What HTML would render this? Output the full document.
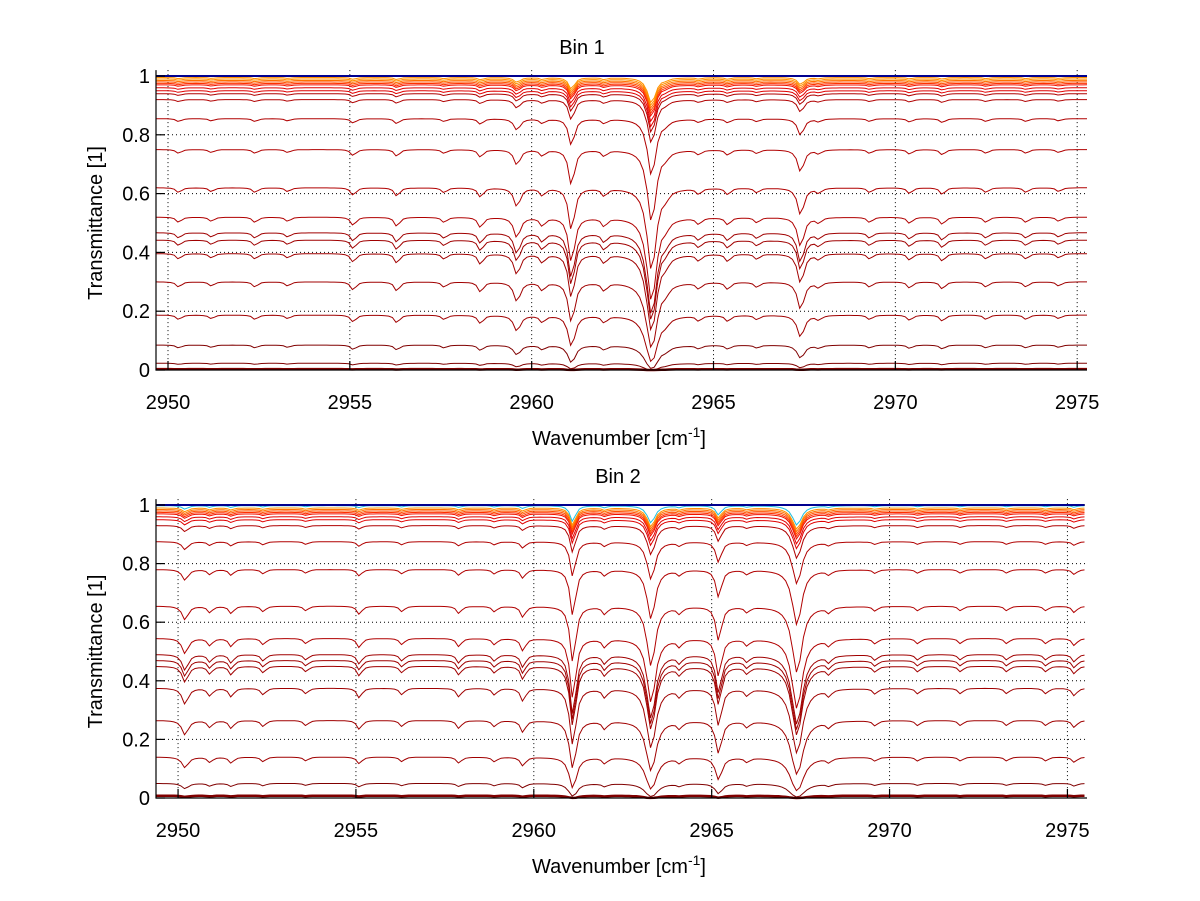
<!DOCTYPE html>
<html><head><meta charset="utf-8"><style>
html,body{margin:0;padding:0;background:#fff;}
svg{display:block;font-family:"Liberation Sans",sans-serif;}
</style></head><body>
<svg id="fig" width="1200" height="901" viewBox="0 0 1200 901" xmlns="http://www.w3.org/2000/svg">
<rect width="1200" height="901" fill="#fff"/>
</svg>
<script>
// ---- data ----
const levels1 = [1.0, 0.995, 0.99, 0.985, 0.98, 0.975, 0.97, 0.96, 0.95, 0.94, 0.92, 0.855, 0.75, 0.62, 0.52, 0.467, 0.442, 0.396, 0.30, 0.187, 0.085, 0.023, 0.003];
const levels2 = [1.0, 0.998, 0.99, 0.985, 0.98, 0.975, 0.97, 0.96, 0.95, 0.93, 0.875, 0.78, 0.655, 0.545, 0.49, 0.47, 0.45, 0.375, 0.265, 0.14, 0.05, 0.008];
const lineCenters1 = [2950.3, 2951.2, 2952.4, 2953.3, 2955.1, 2956.3, 2957.6, 2958.6, 2959.6, 2960.3, 2961.1, 2962.0, 2963.3, 2963.7, 2964.6, 2965.4, 2966.2, 2967.4, 2967.9, 2969.3, 2970.4, 2971.3, 2972.5, 2973.6, 2974.5];
const lineStrength1 = [0.05, 0.04, 0.05, 0.04, 0.08, 0.09, 0.05, 0.1, 0.2, 0.08, 0.5, 0.08, 1.1, 0.06, 0.06, 0.07, 0.05, 0.3, 0.05, 0.05, 0.06, 0.07, 0.05, 0.05, 0.04];
const lineWidth1 = [0.08, 0.08, 0.08, 0.08, 0.08, 0.08, 0.08, 0.08, 0.1, 0.08, 0.09, 0.08, 0.13, 0.08, 0.08, 0.08, 0.08, 0.1, 0.08, 0.08, 0.08, 0.08, 0.08, 0.08, 0.08];
const lineCenters2 = [2950.2, 2950.9, 2951.5, 2952.4, 2953.6, 2955.1, 2956.3, 2957.9, 2958.9, 2959.7, 2961.1, 2962.0, 2963.3, 2964.1, 2965.2, 2966.0, 2967.4, 2968.3, 2969.6, 2970.8, 2972.0, 2973.3, 2974.4, 2975.2];
const lineStrength2 = [0.15, 0.07, 0.08, 0.06, 0.05, 0.09, 0.06, 0.08, 0.06, 0.12, 0.7, 0.08, 0.75, 0.07, 0.4, 0.06, 0.85, 0.06, 0.05, 0.05, 0.05, 0.05, 0.05, 0.07];
const lineWidth2 = [0.1, 0.08, 0.08, 0.08, 0.08, 0.08, 0.08, 0.08, 0.08, 0.08, 0.09, 0.08, 0.13, 0.08, 0.09, 0.08, 0.15, 0.08, 0.08, 0.08, 0.08, 0.08, 0.08, 0.08];
const xTicks = [2950, 2955, 2960, 2965, 2970, 2975];
const yTicks = [0, 0.2, 0.4, 0.6, 0.8, 1];
const yTickLabels = ["0", "0.2", "0.4", "0.6", "0.8", "1"];

const NS = "http://www.w3.org/2000/svg";
const svg = document.getElementById('fig');
function mk(tag, attrs, parent){const e=document.createElementNS(NS,tag);for(const k in attrs)e.setAttribute(k,attrs[k]);(parent||svg).appendChild(e);return e;}

function colorFor(L){
  if(L>=0.999) return '#00008f';
  if(L>=0.997) return '#20c0e0';
  if(L>=0.99) return '#ff9000';
  if(L>=0.985) return '#ff7000';
  if(L>=0.98) return '#ff5000';
  if(L>=0.975) return '#ff3000';
  if(L>=0.97) return '#f01000';
  if(L>=0.95) return '#e00000';
  if(L>=0.5) return '#b00000';
  if(L>=0.1) return '#a00000';
  return '#800000';
}

function panel(cfg){
  const g = mk('g', {});
  
  
  const xs = v => cfg.left + (v - cfg.x0)/(cfg.x1 - cfg.x0)*(cfg.right - cfg.left);
  const ys = v => cfg.bottom - v*(cfg.bottom - cfg.top1);
  xTicks.forEach(t=>{ if(t<cfg.x0||t>cfg.x1) return;
    const l = mk('line',{x1:xs(t),x2:xs(t),y1:ys(1.02),y2:cfg.bottom,stroke:'#000','stroke-width':1,'stroke-dasharray':'1,3'},g);
     
  });
  yTicks.forEach(t=>{
    const l = mk('line',{x1:cfg.left,x2:cfg.right,y1:ys(t),y2:ys(t),stroke:'#000','stroke-width':1,'stroke-dasharray':'1,3'},g);
     
  });
  const step = 0.1;
  const order = cfg.levels.slice().sort((a,b)=>a-b);
  order.forEach(L=>{
    const c = -Math.log(Math.max(L,1e-4)) + (L<0.999 ? 0.08 : 0);
    let pts = [];
    for(let w=cfg.x0; w<=cfg.x1+1e-9; w+=step){
      let a=0;
      for(let i=0;i<cfg.centers.length;i++){const d=(w-cfg.centers[i])/cfg.widths[i]; a+=cfg.strength[i]/(1+d*d);}
      let T = L*Math.exp(-a*c);
      pts.push(xs(w).toFixed(1)+','+ys(T).toFixed(1));
    }
    const p = mk('polyline',{points:pts.join(' '),fill:'none',stroke:colorFor(L),'stroke-width':L<0.01?2.5:(L>=0.999?2:1)},g);
     
  });
  const ax = mk('path',{d:`M${cfg.left},${ys(1.02)} V${cfg.bottom} H${cfg.right}`,fill:'none',stroke:'#000','stroke-width':1.2},g);
   
  xTicks.forEach(t=>{ if(t<cfg.x0||t>cfg.x1) return;
    const tk = mk('line',{x1:xs(t),x2:xs(t),y1:cfg.bottom,y2:cfg.bottom-9,stroke:'#000','stroke-width':1.2},g);
     
    const tx = mk('text',{x:xs(t),y:cfg.bottom+39,'font-size':20,'text-anchor':'middle',fill:'#000'},g);
    tx.textContent = t;
     
  });
  yTicks.forEach((t,i)=>{
    const tk = mk('line',{x1:cfg.left,x2:cfg.left+9,y1:ys(t),y2:ys(t),stroke:'#000','stroke-width':1.2},g);
     
    const tx = mk('text',{x:cfg.left-6,y:ys(t)+7,'font-size':20,'text-anchor':'end',fill:'#000'},g);
    tx.textContent = yTickLabels[i];
     
  });
  const title = mk('text',{x:cfg.titleX,y:cfg.top1-22,'font-size':20,'text-anchor':'middle',fill:'#000'},g);
  title.textContent = cfg.title;
   
  const xl = mk('text',{x:619,y:cfg.bottom+75,'font-size':20,'text-anchor':'middle',fill:'#000'},g);
  xl.innerHTML = 'Wavenumber [cm<tspan dy="-8" font-size="14">-1</tspan><tspan dy="8">]</tspan>';
   
  const yl = mk('text',{x:0,y:0,'font-size':20,'text-anchor':'middle',fill:'#000',transform:`translate(102,${(cfg.bottom+cfg.top1)/2}) rotate(-90)`},g);
  yl.textContent = 'Transmittance [1]';
   
}

panel({name:'bin1-chart',title:'Bin 1',titleX:582,left:156,right:1087,x0:2949.67,x1:2975.27,top1:76,bottom:370,
  levels:levels1,centers:lineCenters1,strength:lineStrength1,widths:lineWidth1});
panel({name:'bin2-chart',title:'Bin 2',titleX:618,left:156,right:1087,x0:2949.38,x1:2975.55,top1:505,bottom:798,
  levels:levels2,centers:lineCenters2,strength:lineStrength2,widths:lineWidth2});
</script>
</body></html>
